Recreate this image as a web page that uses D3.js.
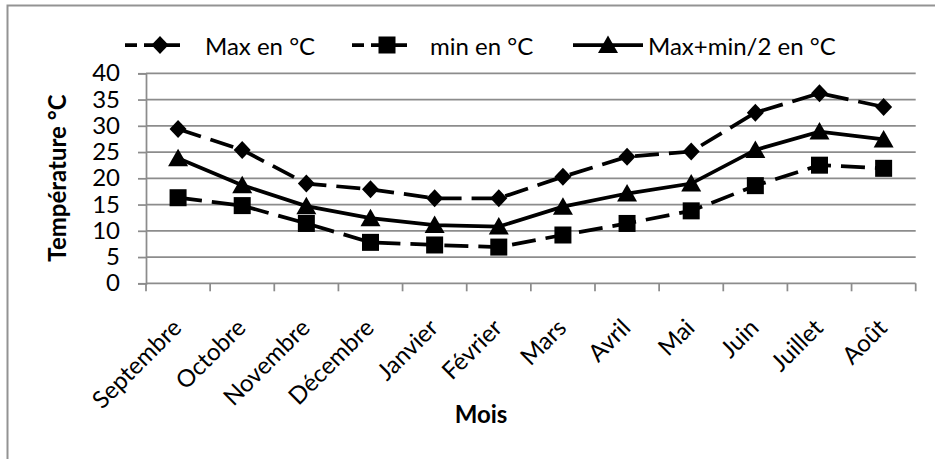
<!DOCTYPE html>
<html>
<head>
<meta charset="utf-8">
<script src="https://cdn.jsdelivr.net/npm/d3@7.9.0/dist/d3.min.js"></script>
<style>
  body { margin: 0; background: #fff; }
  svg text { font-family: Lato, "Open Sans", sans-serif; fill: #000; }
</style>
</head>
<body>
<svg id="chart" width="935" height="459"></svg>
<script>
const months = ["Septembre", "Octobre", "Novembre", "Décembre", "Janvier", "Février",
  "Mars", "Avril", "Mai", "Juin", "Juillet", "Août"];
const maxTemp = [29.4, 25.4, 19.0, 17.9, 16.2, 16.2, 20.3, 24.1, 25.1, 32.5, 36.2, 33.6];
const minTemp = [16.3, 14.8, 11.4, 7.8, 7.3, 6.9, 9.2, 11.4, 13.8, 18.6, 22.5, 21.9];
const avgTemp = [23.8, 18.7, 14.7, 12.4, 11.1, 10.8, 14.6, 17.1, 19.0, 25.4, 28.9, 27.4];
const yTicks = [0, 5, 10, 15, 20, 25, 30, 35, 40];

const series = [
  { name: "Max en °C", values: maxTemp, marker: "diamond", dash: "24,10", legendX: 125, textX: 205 },
  { name: "min en °C", values: minTemp, marker: "square", dash: "24,10", legendX: 352, textX: 430 },
  { name: "Max+min/2 en °C", values: avgTemp, marker: "triangle", dash: null, legendX: 573, textX: 648 },
];

const svg = d3.select("#chart");
const plotLeft = 146, plotRight = 915.7, plotTop = 73.3, plotBottom = 283.3;
const gridColor = "#8c8c8c";
const fontSize = 24;

// outer frame (only top and left visible)
svg.append("path")
  .attr("d", "M7.5,459 V5.5 H935")
  .attr("fill", "none")
  .attr("stroke", "#939393")
  .attr("stroke-width", 2);

const x = d3.scaleBand().domain(months).range([plotLeft, plotRight]);
const y = d3.scaleLinear().domain([0, 40]).range([plotBottom, plotTop]);
const cx = (m) => x(m) + x.bandwidth() / 2;

// gridlines
svg.append("g")
  .selectAll("line")
  .data(yTicks.filter((t) => t > 0))
  .join("line")
  .attr("x1", plotLeft).attr("x2", plotRight)
  .attr("y1", (d) => y(d)).attr("y2", (d) => y(d))
  .attr("stroke", gridColor)
  .attr("stroke-width", 1.75);

// y axis
const yAxis = svg.append("g")
  .attr("transform", `translate(${plotLeft},0)`)
  .call(d3.axisLeft(y).tickValues(yTicks).tickSize(8).tickPadding(18));
yAxis.select(".domain").attr("stroke", gridColor).attr("stroke-width", 1.75);
yAxis.selectAll(".tick line").attr("stroke", gridColor).attr("stroke-width", 1.75);
yAxis.selectAll("text").attr("font-size", fontSize).attr("font-family", "Lato").attr("fill", "#000");

// x axis: ticks at category boundaries
const xAxis = svg.append("g").attr("transform", `translate(0,${plotBottom})`);
xAxis.append("line")
  .attr("x1", plotLeft).attr("x2", plotRight)
  .attr("stroke", gridColor).attr("stroke-width", 1.75);
const boundaries = months.map((m) => x(m)).concat([plotRight]);
xAxis.selectAll(".bt")
  .data(boundaries)
  .join("line")
  .attr("class", "bt")
  .attr("x1", (d) => d).attr("x2", (d) => d)
  .attr("y1", 0).attr("y2", 8)
  .attr("stroke", gridColor).attr("stroke-width", 1.75);

svg.append("g")
  .selectAll("text")
  .data(months)
  .join("text")
  .attr("transform", (d) => `translate(${cx(d) + 5},${plotBottom + 46}) rotate(-45)`)
  .attr("text-anchor", "end")
  .attr("font-size", fontSize)
  .text((d) => d);

// axis titles
svg.append("text")
  .attr("transform", "translate(66,178) rotate(-90)")
  .attr("text-anchor", "middle")
  .attr("font-size", fontSize)
  .attr("font-weight", "bold")
  .text("Température °C");

svg.append("text")
  .attr("x", 481).attr("y", 423)
  .attr("text-anchor", "middle")
  .attr("font-size", fontSize)
  .attr("font-weight", "bold")
  .text("Mois");

// markers
function drawMarker(g, type, px, py) {
  if (type === "diamond") {
    g.append("path")
      .attr("d", `M${px},${py - 9} L${px + 8.5},${py} L${px},${py + 9} L${px - 8.5},${py} Z`)
      .attr("fill", "#000");
  } else if (type === "square") {
    g.append("rect")
      .attr("x", px - 8.5).attr("y", py - 8.5)
      .attr("width", 17).attr("height", 17)
      .attr("fill", "#000");
  } else {
    g.append("path")
      .attr("d", `M${px},${py - 9.5} L${px + 10},${py + 8} L${px - 10},${py + 8} Z`)
      .attr("fill", "#000");
  }
}

const line = d3.line().x((d, i) => cx(months[i])).y((d) => y(d));

series.forEach((s) => {
  const g = svg.append("g");
  g.append("path")
    .attr("d", line(s.values))
    .attr("fill", "none")
    .attr("stroke", "#000")
    .attr("stroke-width", 3.75)
    .attr("stroke-dasharray", s.dash);
  s.values.forEach((v, i) => drawMarker(g, s.marker, cx(months[i]), y(v)));
});

// legend
const legendY = 45;
series.forEach((s) => {
  const g = svg.append("g");
  g.append("line")
    .attr("x1", s.legendX).attr("x2", s.legendX + 70)
    .attr("y1", legendY).attr("y2", legendY)
    .attr("stroke", "#000")
    .attr("stroke-width", 3.75)
    .attr("stroke-dasharray", s.dash ? "12,7,36,20" : null);
  drawMarker(g, s.marker, s.legendX + 35, legendY);
  g.append("text")
    .attr("x", s.textX).attr("y", 55)
    .attr("font-size", fontSize)
    .text(s.name);
});
</script>
</body>
</html>
